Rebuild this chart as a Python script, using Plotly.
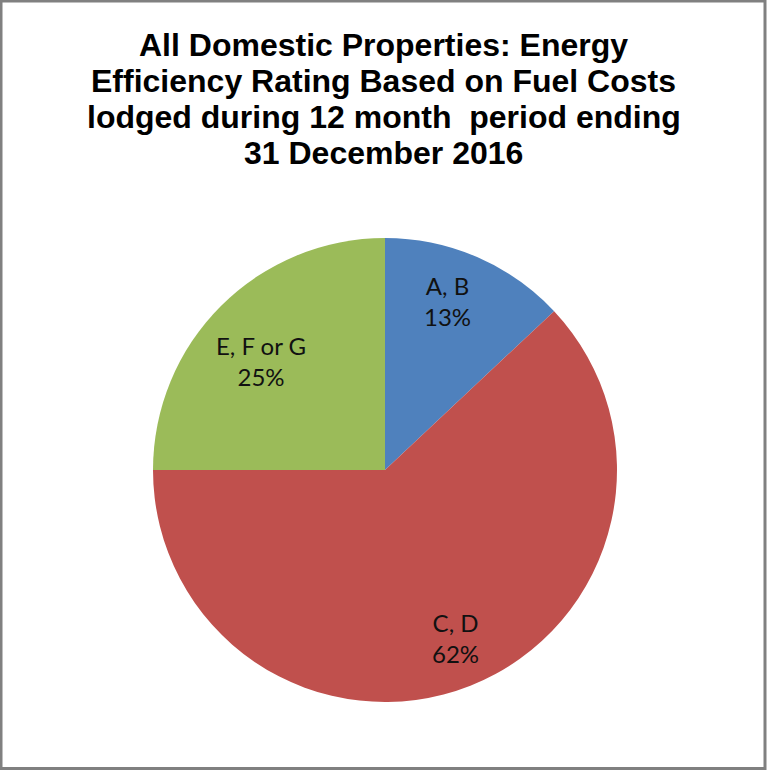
import math
import plotly.graph_objects as go

categories = ["A, B", "C, D", "E, F or G"]
values = [13, 62, 25]
colors = ["#4F81BD", "#C0504D", "#9BBB59"]
title_lines = [
    "All Domestic Properties: Energy",
    "Efficiency Rating Based on Fuel Costs",
    "lodged during 12 month  period ending",
    "31 December 2016",
]

W, H = 767, 770
cx, cy, R = 385, 470, 232
# label placement style (fraction of radius, angular nudge in degrees)
label_radius = [0.778, 0.785, 0.712]
label_nudge = [-3.0, -1.3, -3.7]

fig = go.Figure(go.Pie(
    labels=categories,
    values=values,
    sort=False,
    direction="clockwise",
    rotation=0,
    marker=dict(colors=colors, line=dict(width=0)),
    textinfo="none",
    hoverinfo="label+percent",
    showlegend=False,
    domain=dict(x=[(cx - R) / W, (cx + R) / W], y=[1 - (cy + R) / H, 1 - (cy - R) / H]),
))

total = sum(values)
cum = 0
for cat, v, rf, nd in zip(categories, values, label_radius, label_nudge):
    mid = (cum + v / 2) / total * 360 + nd
    cum += v
    px = cx + rf * R * math.sin(math.radians(mid))
    py = cy - rf * R * math.cos(math.radians(mid))
    pct = round(v / total * 100)
    fig.add_annotation(
        text=f"{cat}<br>{pct}%", x=px / W, y=1 - py / H, xref="paper", yref="paper",
        showarrow=False, xanchor="center", yanchor="middle",
        font=dict(family="Lato", size=24, color="#111111"),
    )

title_y = [45, 81, 117, 153]
for t, y in zip(title_lines, title_y):
    fig.add_annotation(
        text="<b>" + t + "</b>", x=0.5, y=1 - y / H, xref="paper", yref="paper",
        showarrow=False, xanchor="center", yanchor="middle",
        font=dict(family="Liberation Sans", size=32, color="#000000"),
    )

fig.add_shape(type="rect", xref="paper", yref="paper",
              x0=1 / W, x1=1 - 2 / W, y0=1.5 / H, y1=1 - 1 / H,
              line=dict(color="#808080", width=3), fillcolor="rgba(0,0,0,0)")

fig.update_layout(
    width=W, height=H,
    margin=dict(l=0, r=0, t=0, b=0),
    paper_bgcolor="#FFFFFF",
    plot_bgcolor="#FFFFFF",
)

fig.write_html("out.html", config={"displayModeBar": False},
               post_script="document.body.style.margin='0';")
